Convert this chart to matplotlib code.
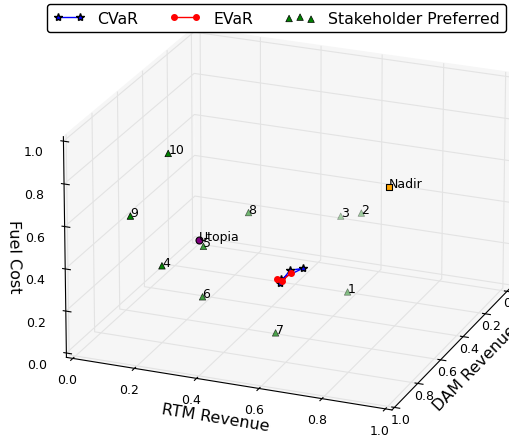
import numpy as np
import matplotlib
matplotlib.use('Agg')
import matplotlib.pyplot as plt
from mpl_toolkits.mplot3d import Axes3D

# normalised objectives: RTM revenue, DAM revenue, fuel cost
cvar_rtm = [0.458, 0.448, 0.478, 0.448]
cvar_dam = [0.48, 0.37, 0.34, 0.45]
cvar_fuel = [0.15, 0.15, 0.15, 0.15]

evar_rtm = [0.438, 0.458, 0.458]
evar_dam = [0.45, 0.46, 0.39]
evar_fuel = [0.15, 0.15, 0.15]

sh_labels = ['1', '2', '3', '4', '5', '6', '7', '8', '9', '10']
sh_rtm = [0.587, 0.552, 0.474, 0.283, 0.288, 0.307, 0.50, 0.315, 0.183, 0.261]
sh_dam = [0.239, 0.027, 0.0, 1.0, 0.68, 0.737, 0.626, 0.376, 1.0, 0.89]
sh_fuel = [0.006, 0.269, 0.222, 0.473, 0.395, 0.189, 0.0, 0.402, 0.684, 0.937]

utopia = [0.0, 0.0, 0.0]
nadir = [1.0, 1.0, 1.0]

ticks = [0.0, 0.2, 0.4, 0.6, 0.8, 1.0]

plt.rcParams['grid.color'] = '#e3e3e3'
plt.rcParams['grid.linewidth'] = 0.8

fig = plt.figure(figsize=(5.09, 4.39), dpi=100)
ax = fig.add_subplot(111, projection='3d')
ax.set_position([0.060, 0.032, 1.0, 0.93])
ax.set_box_aspect((4.2, 4, 2.85), zoom=1.27)
ax.set_proj_type('persp', focal_length=3)

ax.plot(cvar_rtm, cvar_dam, cvar_fuel, color='b', marker='*', markersize=6,
        markerfacecolor='b', markeredgecolor='k', linewidth=1, label='CVaR')
ax.plot(evar_rtm, evar_dam, evar_fuel, color='r', marker='o', markersize=4,
        markerfacecolor='r', markeredgecolor='r', linewidth=1, label='EVaR')
ax.scatter(sh_rtm, sh_dam, sh_fuel, marker='^', c='g', s=22,
           edgecolors='k', linewidths=0.5, label='Stakeholder Preferred')
for lab, xx, yy, zz in zip(sh_labels, sh_rtm, sh_dam, sh_fuel):
    ax.text(xx, yy, zz, lab, fontsize=9)

ax.scatter([utopia[0]], [utopia[1]], [utopia[2]], marker='o', c='purple',
           s=25, edgecolors='k', linewidths=0.8)
ax.text(utopia[0], utopia[1], utopia[2], 'Utopia', fontsize=9)
ax.scatter([nadir[0]], [nadir[1]], [nadir[2]], marker='s', c='orange',
           s=25, edgecolors='k', linewidths=0.8)
ax.text(nadir[0], nadir[1], nadir[2], 'Nadir', fontsize=9)

pad = 1.0 / 48
ax.set_xlim(-pad, 1 + pad)
ax.set_ylim(1 + pad, -pad)
ax.set_zlim(-pad, 1 + pad)
ax.set_xticks(ticks)
ax.set_yticks(ticks)
ax.set_zticks(ticks)
ax.xaxis.set_tick_params(labelsize=9, pad=-1.5)
ax.yaxis.set_tick_params(labelsize=9, pad=-5)
ax.zaxis.set_tick_params(labelsize=9, pad=2)
ax.set_xlabel('RTM Revenue', fontsize=11.5, labelpad=-6)
ax.set_ylabel('DAM Revenue', fontsize=11.5, labelpad=-10)
ax.set_zlabel('Fuel Cost', fontsize=11.5, labelpad=-4)
ax.zaxis.set_ticks_position('upper')
ax.zaxis.set_label_position('upper')
for axis in (ax.xaxis, ax.yaxis, ax.zaxis):
    axis.set_pane_color((0.965, 0.965, 0.965, 1.0))
ax.view_init(elev=22, azim=-68)

fig.legend(loc='upper center', bbox_to_anchor=(0.543, 0.995), ncol=3,
           fontsize=11.3, numpoints=2, scatterpoints=3, fancybox=True,
           edgecolor='k', framealpha=1, borderaxespad=0.2)

fig.savefig('out.png', dpi=100)
